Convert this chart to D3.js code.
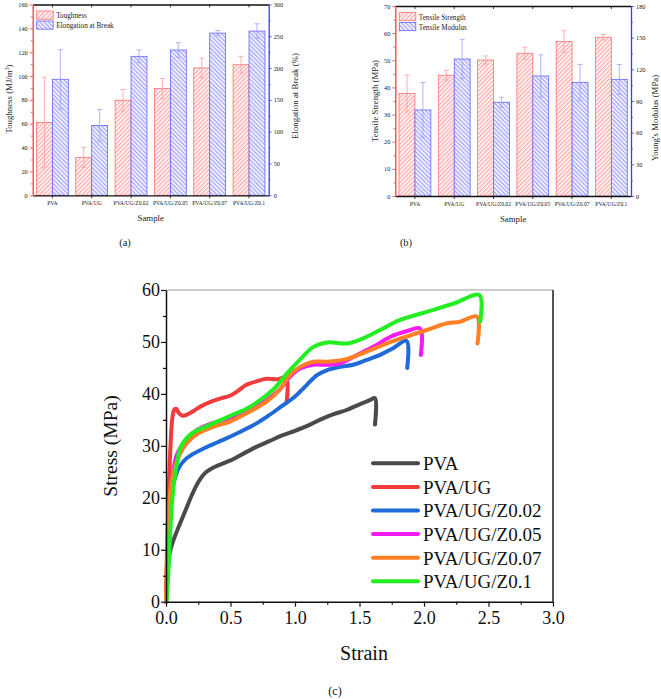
<!DOCTYPE html>
<html><head><meta charset="utf-8">
<script src="https://cdn.jsdelivr.net/npm/d3@7"></script>
<style>body{margin:0;background:#fff}svg{display:block}</style>
</head><body><svg id="c" width="661" height="699"></svg>
<script>
// ---------- data ----------
const samples = ["PVA","PVA/UG","PVA/UG/Z0.02","PVA/UG/Z0.05","PVA/UG/Z0.07","PVA/UG/Z0.1"];
const toughness = [61, 31.8, 79.7, 89.5, 106.8, 109.5];
const toughnessErr = [38, 8.5, 9, 8.5, 8, 7];
const elongation = [182.4, 109.8, 218.5, 228.4, 255, 258.2];
const elongationErr = [46.5, 25, 10, 11.5, 4, 11.5];
const strength = [37.8, 44.5, 50.1, 52.6, 56.9, 58.5];
const strengthErr = [6.8, 1.8, 1.5, 2.2, 4, 1];
const modulus = [81.5, 129.8, 88.8, 113.7, 107.7, 110.5];
const modulusErr = [26, 18.6, 4.7, 20, 17, 14];

const toughTicks = [0,20,40,60,80,100,120,140,160];
const elongTicks = [0,50,100,150,200,250,300];
const strengthTicks = [0,10,20,30,40,50,60,70];
const modulusTicks = [0,30,60,90,120,150,180];
const strainTicks = [0,0.5,1,1.5,2,2.5,3];
const stressTicks = [0,10,20,30,40,50,60];

const curvePVA = [[0,0],[0.01,5],[0.03,9.5],[0.06,12],[0.1,14.5],[0.15,17.5],[0.2,20.5],[0.25,23],[0.3,24.7],[0.35,25.6],[0.42,26.4],[0.5,27.2],[0.6,28.5],[0.7,29.8],[0.8,30.9],[0.9,32],[1.0,32.9],[1.1,33.9],[1.2,35.1],[1.3,36.1],[1.4,36.9],[1.5,38],[1.58,38.8],[1.62,39.2],[1.62,34.1]];
const curveUG = [[0,0],[0.01,10],[0.02,20],[0.035,30],[0.05,35.5],[0.065,37],[0.08,37.1],[0.1,36.3],[0.13,35.8],[0.17,36.1],[0.2,36.5],[0.27,37.6],[0.35,38.5],[0.42,39.1],[0.5,39.7],[0.57,40.8],[0.62,41.7],[0.7,42.4],[0.78,42.9],[0.86,42.8],[0.93,43.1],[0.935,38.3]];
const curveZ002 = [[0,0],[0.01,6],[0.025,14],[0.04,19.5],[0.06,23],[0.1,25.8],[0.15,27.4],[0.2,28.3],[0.3,29.6],[0.4,30.7],[0.5,31.8],[0.6,33],[0.7,34.3],[0.8,35.9],[0.9,37.7],[1.0,39.5],[1.09,41.7],[1.17,43.6],[1.25,44.6],[1.35,45.2],[1.45,45.6],[1.55,46.5],[1.66,47.5],[1.76,48.8],[1.865,50.2],[1.87,45]];
const curveZ005 = [[0,0],[0.01,8],[0.03,18],[0.05,24],[0.08,28],[0.12,30],[0.18,31.8],[0.25,33.2],[0.35,34.3],[0.5,35.3],[0.65,37],[0.78,38.8],[0.88,40.8],[0.96,43.3],[1.04,44.9],[1.14,45.6],[1.24,45.6],[1.35,45.9],[1.48,47.5],[1.61,49.1],[1.74,51],[1.87,52.1],[1.97,52.6],[1.975,47.5]];
const curveZ007 = [[0,0],[0.005,8],[0.02,18],[0.05,24],[0.1,28],[0.16,30.5],[0.25,32.4],[0.37,33.7],[0.5,34.7],[0.65,36.6],[0.78,38.5],[0.88,40.8],[0.96,43.6],[1.04,45.2],[1.14,46.2],[1.25,46.2],[1.4,46.7],[1.55,48.1],[1.71,49.7],[1.86,51],[2.02,52.3],[2.18,53.6],[2.28,53.9],[2.41,54.9],[2.415,49.7]];
const curveZ01 = [[0.005,0],[0.015,4],[0.03,12],[0.05,20],[0.08,26],[0.11,29.5],[0.16,31.5],[0.22,32.7],[0.3,33.6],[0.4,34.7],[0.5,35.8],[0.65,37.5],[0.83,40.8],[0.94,44],[1.05,46.9],[1.14,49],[1.25,49.9],[1.4,49.7],[1.5,50.4],[1.66,52.3],[1.81,54.2],[2.02,55.8],[2.23,57.4],[2.43,59],[2.435,53.9]];
const curveNames = ["PVA","PVA/UG","PVA/UG/Z0.02","PVA/UG/Z0.05","PVA/UG/Z0.07","PVA/UG/Z0.1"];
const curves = [curvePVA, curveUG, curveZ002, curveZ005, curveZ007, curveZ01];
const curveColors = ["#4a4a4a","#f03c3c","#1f6ad8","#f21cf2","#ff7f24","#22ee22"];

// ---------- drawing ----------
const FONT = "Liberation Serif";
const svg = d3.select("#c");
const defs = svg.append("defs");
function hatch(id, color, angle){
  const p = defs.append("pattern").attr("id",id).attr("patternUnits","userSpaceOnUse")
    .attr("width",3).attr("height",3).attr("patternTransform",`rotate(${angle})`);
  p.append("rect").attr("width",3).attr("height",3).attr("fill","#fff");
  p.append("line").attr("x1",0.8).attr("y1",0).attr("x2",0.8).attr("y2",3).attr("stroke",color).attr("stroke-width",0.9);
}
hatch("hr","#ff7a7a",45);
hatch("hb","#6f6fff",-45);

const RED="#ff3b3b", BLUE="#3b3bff";

function styleAxis(g, color, fs){
  g.attr("font-family",FONT);
  g.select(".domain").attr("stroke",color).attr("stroke-width",1.3);
  g.selectAll(".tick line").attr("stroke",color).attr("stroke-width",0.8);
  g.selectAll(".tick text").attr("fill","#222").attr("font-size",fs).style("font-family",FONT);
}
function minor(major){
  const out=[]; for(let i=0;i<major.length-1;i++) out.push((major[i]+major[i+1])/2); return out;
}
function txt(g){ return g.append("text").style("font-family",FONT); }

function barPanel(o){
  const g = svg.append("g");
  const x = d3.scaleBand().domain(samples).range([o.left,o.right]).paddingInner(0.19).paddingOuter(0.095);
  const sub = d3.scaleBand().domain([0,1]).range([0,x.bandwidth()]);
  const yL = d3.scaleLinear().domain([o.lTicks[0],o.lTicks[o.lTicks.length-1]]).range([o.bottom,o.top]);
  const yR = d3.scaleLinear().domain([o.rTicks[0],o.rTicks[o.rTicks.length-1]]).range([o.bottom,o.top]);
  const series = [
    {vals:o.lVals, err:o.lErr, y:yL, fill:"url(#hr)", stroke:"#ff7070", ec:"#ff9e9e"},
    {vals:o.rVals, err:o.rErr, y:yR, fill:"url(#hb)", stroke:"#6464ff", ec:"#a0a0ff"}
  ];
  series.forEach((s,k)=>{
    g.append("g").selectAll("rect").data(samples).join("rect")
      .attr("x",d=>x(d)+sub(k)).attr("width",sub.bandwidth())
      .attr("y",(d,i)=>s.y(s.vals[i])).attr("height",(d,i)=>o.bottom-s.y(s.vals[i]))
      .attr("fill",s.fill).attr("stroke",s.stroke).attr("stroke-width",0.8);
    const eg = g.append("g").attr("stroke",s.ec).attr("stroke-width",0.8).attr("fill","none");
    samples.forEach((d,i)=>{
      const cx = x(d)+sub(k)+sub.bandwidth()/2;
      const y1 = s.y(s.vals[i]+s.err[i]), y0 = s.y(s.vals[i]-s.err[i]);
      eg.append("line").attr("x1",cx).attr("x2",cx).attr("y1",y1).attr("y2",y0);
      eg.append("line").attr("x1",cx-2.5).attr("x2",cx+2.5).attr("y1",y1).attr("y2",y1);
      eg.append("line").attr("x1",cx-2.5).attr("x2",cx+2.5).attr("y1",y0).attr("y2",y0);
    });
  });
  const top = g.append("g").attr("transform",`translate(0,${o.top})`)
    .call(d3.axisBottom(x).tickSize(3).tickSizeOuter(0).tickFormat(""));
  styleAxis(top,"#111",5.5);
  const bot = g.append("g").attr("transform",`translate(0,${o.bottom})`)
    .call(d3.axisBottom(x).tickSize(3).tickSizeOuter(0).tickPadding(3));
  styleAxis(bot,"#111",5.6);
  const la = g.append("g").attr("transform",`translate(${o.left},0)`)
    .call(d3.axisLeft(yL).tickValues(o.lTicks).tickSize(3).tickSizeOuter(0).tickPadding(2));
  styleAxis(la,RED,6.3);
  const lm = g.append("g").attr("transform",`translate(${o.left},0)`)
    .call(d3.axisLeft(yL).tickValues(minor(o.lTicks)).tickSize(1.8).tickFormat(""));
  lm.select(".domain").remove(); lm.selectAll("line").attr("stroke",RED).attr("stroke-width",0.8);
  const ra = g.append("g").attr("transform",`translate(${o.right},0)`)
    .call(d3.axisRight(yR).tickValues(o.rTicks).tickSize(3).tickSizeOuter(0).tickPadding(2));
  styleAxis(ra,BLUE,6.3);
  const rm = g.append("g").attr("transform",`translate(${o.right},0)`)
    .call(d3.axisRight(yR).tickValues(minor(o.rTicks)).tickSize(1.8).tickFormat(""));
  rm.select(".domain").remove(); rm.selectAll("line").attr("stroke",BLUE).attr("stroke-width",0.8);
  txt(g).attr("transform",`translate(${o.lTitleX},${o.lTitleY}) rotate(-90)`)
    .attr("text-anchor","middle").attr("font-size",8.8).attr("fill","#222").html(o.lTitle);
  txt(g).attr("transform",`translate(${o.rTitleX},${o.rTitleY}) rotate(-90)`)
    .attr("text-anchor","middle").attr("font-size",8.8).attr("fill","#222").text(o.rTitle);
  txt(g).attr("x",(o.left+o.right)/2).attr("y",o.bottom+25.5)
    .attr("text-anchor","middle").attr("font-size",8.8).attr("fill","#222").text("Sample");
  o.legend.forEach((t,k)=>{
    const ly = o.top + 6.5 + k*10;
    g.append("rect").attr("x",o.left+4).attr("y",ly).attr("width",16.5).attr("height",8.2)
      .attr("fill",series[k].fill).attr("stroke",series[k].stroke).attr("stroke-width",0.8);
    txt(g).attr("x",o.left+23.5).attr("y",ly+7).attr("font-size",7.2).attr("fill","#222").text(t);
  });
  txt(g).attr("x",o.capX).attr("y",246).attr("text-anchor","middle").attr("font-size",10.5).attr("fill","#222").text(o.cap);
}

barPanel({left:32.7,right:268.7,top:4.5,bottom:195.3,
  lTicks:toughTicks,rTicks:elongTicks,lVals:toughness,lErr:toughnessErr,rVals:elongation,rErr:elongationErr,
  lTitle:'Toughness (MJ/m<tspan dy="-3" font-size="6">3</tspan><tspan dy="3">)</tspan>',lTitleX:12,lTitleY:99,
  rTitle:"Elongation at Break (%)",rTitleX:298,rTitleY:96,
  legend:["Toughness","Elongation at Break"],capX:125,cap:"(a)"});
barPanel({left:395.3,right:631,top:6,bottom:196,
  lTicks:strengthTicks,rTicks:modulusTicks,lVals:strength,lErr:strengthErr,rVals:modulus,rErr:modulusErr,
  lTitle:"Tensile Strength (MPa)",lTitleX:378,lTitleY:101,
  rTitle:"Young's Modulus (MPa)",rTitleX:658,rTitleY:118,
  legend:["Tensile Strength","Tensile Modulus"],capX:406,cap:"(b)"});

// ---------- panel (c) ----------
const gc = svg.append("g");
const L=166,R=553,T=290,B=601.7;
const x = d3.scaleLinear().domain([0,3]).range([L,R]);
const y = d3.scaleLinear().domain([0,60]).range([B,T]);
gc.append("line").attr("x1",L).attr("x2",R).attr("y1",T).attr("y2",T).attr("stroke","#999").attr("stroke-width",1);
gc.append("line").attr("x1",R).attr("x2",R).attr("y1",T).attr("y2",B).attr("stroke","#555").attr("stroke-width",2);

const line = d3.line().x(d=>x(d[0])).y(d=>y(d[1])).curve(d3.curveCatmullRom.alpha(0.5));
curves.forEach((c,i)=>{
  gc.append("path").attr("d",line(c)).attr("fill","none").attr("stroke",curveColors[i])
    .attr("stroke-width",4).attr("stroke-linejoin","round").attr("stroke-linecap","round");
});

const ax = gc.append("g").attr("transform",`translate(0,${B})`)
  .call(d3.axisBottom(x).tickValues(strainTicks).tickFormat(d3.format(".1f")).tickSize(5).tickSizeOuter(0).tickPadding(5));
ax.attr("font-family",FONT);
ax.select(".domain").attr("stroke","#111").attr("stroke-width",1.5);
ax.selectAll(".tick line").attr("stroke","#111").attr("stroke-width",1.2);
ax.selectAll(".tick text").attr("font-size",18).attr("fill","#111").style("font-family",FONT);
const axm = gc.append("g").attr("transform",`translate(0,${B})`)
  .call(d3.axisBottom(x).tickValues(minor(strainTicks)).tickSize(3).tickFormat(""));
axm.select(".domain").remove(); axm.selectAll("line").attr("stroke","#111").attr("stroke-width",1.2);

const ay = gc.append("g").attr("transform",`translate(${L},0)`)
  .call(d3.axisLeft(y).tickValues(stressTicks).tickSize(5).tickSizeOuter(0).tickPadding(1));
ay.attr("font-family",FONT);
ay.select(".domain").attr("stroke","#111").attr("stroke-width",1.5);
ay.selectAll(".tick line").attr("stroke","#111").attr("stroke-width",1.2);
ay.selectAll(".tick text").attr("font-size",18).attr("fill","#111").style("font-family",FONT);
const aym = gc.append("g").attr("transform",`translate(${L},0)`)
  .call(d3.axisLeft(y).tickValues(minor(stressTicks)).tickSize(3).tickFormat(""));
aym.select(".domain").remove(); aym.selectAll("line").attr("stroke","#111").attr("stroke-width",1.2);

txt(gc).attr("transform",`translate(117,446) rotate(-90)`).attr("text-anchor","middle")
  .attr("font-size",19.5).attr("fill","#111").text("Stress (MPa)");
txt(gc).attr("x",364).attr("y",660).attr("text-anchor","middle")
  .attr("font-size",20).attr("fill","#111").text("Strain");
txt(gc).attr("x",335).attr("y",695).attr("text-anchor","middle")
  .attr("font-size",12).attr("fill","#111").text("(c)");

curveNames.forEach((n,i)=>{
  const ly = 463.3 + i*23.6;
  gc.append("line").attr("x1",373).attr("x2",418).attr("y1",ly).attr("y2",ly)
    .attr("stroke",curveColors[i]).attr("stroke-width",4).attr("stroke-linecap","round");
  txt(gc).attr("x",423).attr("y",ly+6.8).attr("font-size",19).attr("fill","#111").text(n);
});
</script></body></html>
